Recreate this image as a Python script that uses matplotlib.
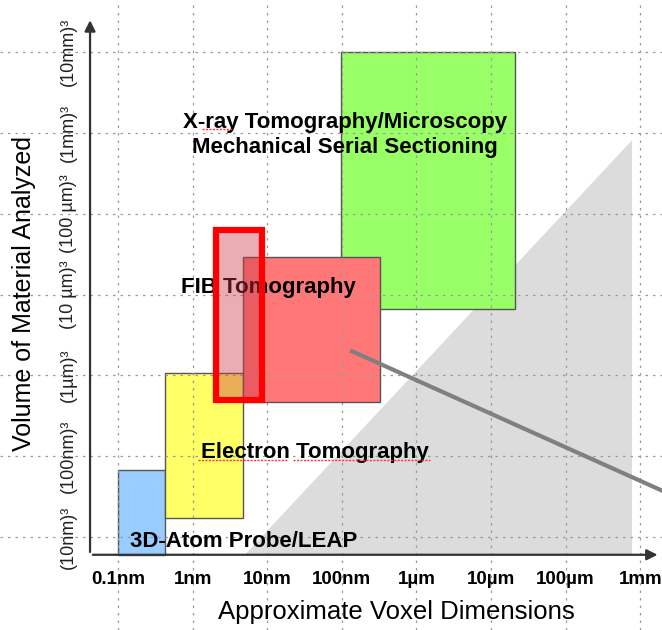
import numpy as np
import matplotlib
matplotlib.use("Agg")
import matplotlib.pyplot as plt
from matplotlib.patches import Rectangle, Polygon

plt.rcParams['font.family'] = ['Liberation Sans', 'DejaVu Sans']

# x = log10(voxel size / nm), y = log10(edge of analysed volume / nm)
x_ticks = [-1, 0, 1, 2, 3, 4, 5, 6]
x_labels = ['0.1nm', '1nm', '10nm', '100nm', '1µm', '10µm', '100µm', '1mm']
y_ticks = [1, 2, 3, 4, 5, 6, 7]
y_labels = ['(10nm)³', '(100nm)³', '(1µm)³', '(10 µm)³', '(100 µm)³', '(1mm)³', '(10mm)³']

# technique boxes: x0, x1, y0, y1
box_names = ['3D-Atom Probe/LEAP', 'Electron Tomography', 'X-ray', 'FIB Tomography']
box_x0 = [-1.00, -0.37, 1.99, 0.68]
box_x1 = [-0.37, 0.68, 4.32, 2.51]
box_y0 = [0.78, 1.24, 3.82, 2.67]
box_y1 = [1.83, 3.03, 7.00, 4.47]
box_colors = ['#99ccff', '#ffff66', '#99ff66', '#ff7777']

# highlighted FIB range (red outline)
fib_x = [0.31, 0.93]
fib_y = [2.70, 4.80]

# unreachable region (grey triangle)
tri_x = [0.70, 5.89, 5.89]
tri_y = [0.78, 5.91, 0.78]

# pointer line
ptr_x = [2.11, 6.35]
ptr_y = [3.31, 1.55]

labels = ['X-ray Tomography/Microscopy\nMechanical Serial Sectioning',
          'FIB Tomography', 'Electron Tomography', '3D-Atom Probe/LEAP']
label_x = [2.04, 1.01, 1.64, 0.68]
label_y = [5.975, 4.09, 2.05, 0.95]

# spell-check underlines left in the slide
squig_x0 = [0.13, 0.07, 1.35]
squig_x1 = [0.54, 1.27, 3.18]
squig_y = [6.05, 1.95, 1.95]

x_orig, y_orig = -1.375, 0.78

fig = plt.figure(figsize=(6.62, 6.30), dpi=100)
ax = fig.add_axes([0, 0, 1, 1])
ax.set_xlim(-2.582, 6.292)
ax.set_ylim(-0.151, 7.646)
ax.axis('off')

# slide grid
for xv in x_ticks:
    ax.axvline(xv, color='#9a9a9a', lw=0.9, ls=(0, (2, 4)), zorder=3)
for yv in y_ticks:
    ax.axhline(yv, color='#9a9a9a', lw=0.9, ls=(0, (2, 4)), zorder=3)

ax.add_patch(Polygon(list(zip(tri_x, tri_y)), closed=True, facecolor='#dcdcdc',
                     edgecolor='none', zorder=1))

for i in range(len(box_names)):
    ax.add_patch(Rectangle((box_x0[i], box_y0[i]), box_x1[i] - box_x0[i],
                           box_y1[i] - box_y0[i], facecolor=box_colors[i],
                           edgecolor='#555555', lw=1, zorder=2))

for t, lx, ly in zip(labels, label_x, label_y):
    ax.text(lx, ly, t, ha='center', va='center', fontsize=16, fontweight='bold',
            color='black', linespacing=1.3, zorder=5)

for a, b, yv in zip(squig_x0, squig_x1, squig_y):
    ax.plot([a, b], [yv, yv], color='#ff3333', lw=1, ls=(0, (1.5, 1)), zorder=5)

ax.add_patch(Rectangle((fib_x[0], fib_y[0]), fib_x[1] - fib_x[0], fib_y[1] - fib_y[0],
                       facecolor='#cc3344', alpha=0.4, edgecolor='none', zorder=6))
ax.add_patch(Rectangle((fib_x[0], fib_y[0]), fib_x[1] - fib_x[0], fib_y[1] - fib_y[0],
                       facecolor='none', edgecolor='#ff0000', lw=4.5, zorder=7))

ax.plot(ptr_x, ptr_y, color='#808080', lw=3, zorder=8, solid_capstyle='butt')

# axes arrows
arrow = dict(arrowstyle='-|>', color='#333333', lw=1.6, mutation_scale=16)
ax.annotate('', xy=(6.27, y_orig), xytext=(x_orig, y_orig), arrowprops=arrow, zorder=9)
ax.annotate('', xy=(x_orig, 7.43), xytext=(x_orig, y_orig), arrowprops=arrow, zorder=9)

for xv, lab in zip(x_ticks, x_labels):
    ax.text(xv, 0.47, lab, ha='center', va='center', fontsize=13.5, fontweight='bold')
for yv, lab in zip(y_ticks, y_labels):
    ax.text(-1.67, yv, lab, ha='center', va='center', rotation=90, fontsize=13,
            color='#222222')

ax.text(2.73, 0.07, 'Approximate Voxel Dimensions', ha='center', va='center', fontsize=18.5)
ax.text(-2.26, 4.01, 'Volume of Material Analyzed', ha='center', va='center',
        rotation=90, fontsize=18)

fig.savefig('out.png', dpi=100)
